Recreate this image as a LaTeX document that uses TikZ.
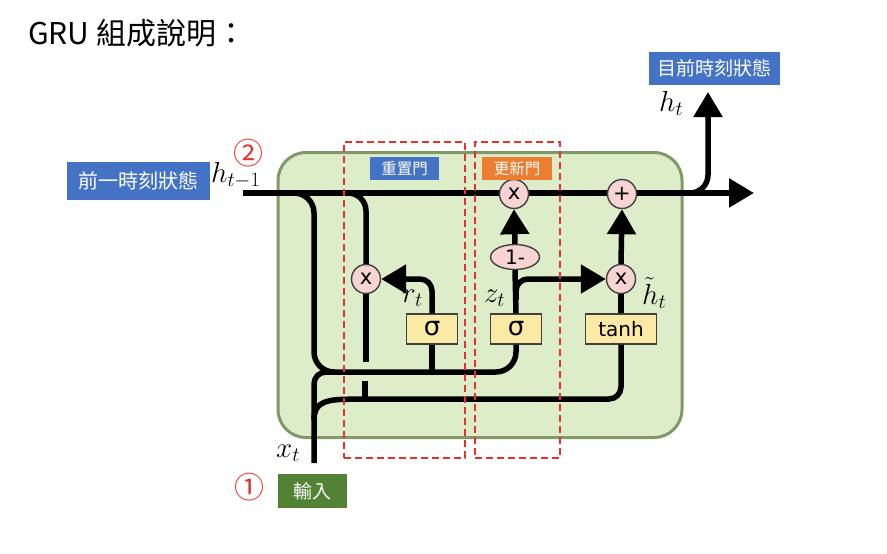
\RequirePackage{fix-cm}
\documentclass[tikz,border=0pt]{standalone}
\usepackage{fontspec}
\usetikzlibrary{arrows.meta,shapes.geometric}
\newfontfamily\cjk{Noto Sans CJK TC}
\newfontfamily\gatefont{DejaVu Sans}

\definecolor{cellgreen}{HTML}{DDEDC9}
\definecolor{celledge}{HTML}{7F9A68}
\definecolor{tagblue}{HTML}{4472C4}
\definecolor{tagorange}{HTML}{ED7D31}
\definecolor{taggreen}{HTML}{548235}
\definecolor{oppink}{HTML}{F8D3D3}
\definecolor{gateyellow}{HTML}{FBEAA5}
\definecolor{markred}{HTML}{E5322B}

\tikzset{
  flow/.style={line width=5.5pt, rounded corners=12pt},
  flowarrow/.style={flow, -{Triangle[length=25pt,width=28pt]}},
  opcircle/.style={circle, draw=black!75, line width=1.4pt, fill=oppink,
    minimum size=29pt, inner sep=0pt, font=\gatefont\fontsize{21}{21}\selectfont},
  gatebox/.style={rectangle, draw=black!75, line width=1.4pt, fill=gateyellow,
    minimum height=30pt, inner sep=0pt, font=\gatefont\fontsize{26}{26}\selectfont},
  tagbox/.style={rectangle, fill=#1, text=white, inner sep=0pt,
    font=\cjk\fontsize{19}{19}\selectfont},
  gatearea/.style={rectangle, draw=markred, line width=2pt, dash pattern=on 7pt off 4pt,
    minimum height=316pt},
  varlabel/.style={inner sep=0pt, anchor=base west, font=\fontsize{29}{29}\selectfont},
  stepmark/.style={text=markred, inner sep=0pt, font=\cjk\fontsize{30}{30}\selectfont}
}

\begin{document}
\begin{tikzpicture}[x=1pt, y=-1pt]
  \useasboundingbox (0,0) rectangle (887,554);

  % title
  \node[anchor=west, inner sep=0pt, font=\cjk\fontsize{30}{30}\selectfont] (title) at (28,33) {GRU 組成說明：};

  % the cell
  \node[draw=celledge, line width=3pt, fill=cellgreen, rounded corners=28pt,
        minimum width=404pt, minimum height=285pt] (cell) at (480,295) {};

  % hidden state line
  \coordinate (lineL) at (243,193);
  \coordinate (lineR) at (754,193);
  \coordinate (forkUp) at (688,193);
  \coordinate (htop) at (708,92);
  \draw[flowarrow] (lineL) -- (lineR);
  \draw[flowarrow, rounded corners=18pt] (forkUp) -| (htop);

  % operations
  \node[opcircle] (mulz) at (514,194) {x};
  \node[opcircle] (plus) at (622,194) {+};
  \node[opcircle] (mulr) at (366,279) {x};
  \node[opcircle] (multanh) at (621,279) {x};
  \node[ellipse, draw=black!75, line width=1.4pt, fill=oppink, minimum width=49pt,
        minimum height=25pt, inner sep=0pt, font=\gatefont\fontsize{20}{20}\selectfont] (oneminus) at (515,257) {1-};

  % gates
  \node[gatebox, minimum width=51pt] (sigr) at (432,329) {σ};
  \node[gatebox, minimum width=51pt] (sigz) at (516,329) {σ};
  \node[gatebox, minimum width=71pt, font=\gatefont\fontsize{20}{20}\selectfont] (tanh) at (621,329) {tanh};

  % inputs into the gates
  \coordinate (forkA) at (294,193);
  \coordinate (jA) at (314,372);
  \coordinate (jr) at (432,372);
  \coordinate (xin) at (314,463);
  \coordinate (jX) at (335,372);
  \coordinate (xfork) at (314,420);
  \draw[flow, rounded corners=20pt] (forkA) -| (jA) -| (sigz.south);
  \draw[flow] (jr) -- (sigr.south);
  \draw[flow] (xin) |- (jX);
  \draw[flow] (xfork) .. controls (314,405) and (322,400) .. (355,399) -| (tanh.south);

  % reset branch
  \coordinate (forkR) at (346,193);
  \coordinate (rgap) at (366,362);
  \coordinate (rstub) at (365,381);
  \coordinate (rstubend) at (365,399);
  \draw[flow, rounded corners=18pt] (forkR) -| (mulr.north);
  \draw[flow] (mulr.south) -- (rgap);
  \draw[flow] (rstub) -- (rstubend);
  \draw[flowarrow] (sigr.north) |- (mulr.east);

  % update branch
  \coordinate (zfork) at (516,300);
  \draw[flow] (sigz.north) -- (oneminus.south);
  \draw[flowarrow] (oneminus.north) -- (mulz.south);
  \draw[flowarrow] (zfork) |- (multanh.west);

  % candidate branch
  \draw[flow] (tanh.north) -- (multanh.south);
  \draw[flowarrow] (multanh.north) -- (plus.south);

  % variable labels
  \node[varlabel] (hprev) at (211,182) {$h_{t-1}$};
  \node[varlabel] (hnow) at (659,111) {$h_t$};
  \node[varlabel] (rlab) at (402,302) {$r_t$};
  \node[varlabel] (zlab) at (484,302) {$z_t$};
  \node[varlabel] (hcand) at (642,304) {$\tilde{h}_t$};
  \node[varlabel] (xlab) at (276,457) {$x_t$};

  % gate areas
  \node[gatearea, minimum width=121pt] (resetarea) at (404.5,300) {};
  \node[gatearea, minimum width=85pt] (updatearea) at (517.5,300) {};
  \node[tagbox=tagblue, minimum width=69pt, minimum height=23pt,
        font=\cjk\fontsize{15.5}{15.5}\selectfont] (resettag) at (404.5,168.5) {重置門};
  \node[tagbox=tagorange, minimum width=70pt, minimum height=23pt,
        font=\cjk\fontsize{15.5}{15.5}\selectfont] (updatetag) at (517,168.5) {更新門};

  % state tags
  \node[tagbox=tagblue, minimum width=143pt, minimum height=38pt,
        font=\cjk\fontsize{20}{20}\selectfont] (prevtag) at (138.5,181) {前一時刻狀態};
  \node[tagbox=tagblue, minimum width=131pt, minimum height=33pt] (curtag) at (714.5,68.5) {目前時刻狀態};
  \node[tagbox=taggreen, minimum width=69pt, minimum height=34pt] (inputtag) at (312.5,491) {輸入};

  % steps
  \node[stepmark] (step2) at (248,153) {②};
  \node[stepmark] (step1) at (249,487) {①};
\end{tikzpicture}
\end{document}
